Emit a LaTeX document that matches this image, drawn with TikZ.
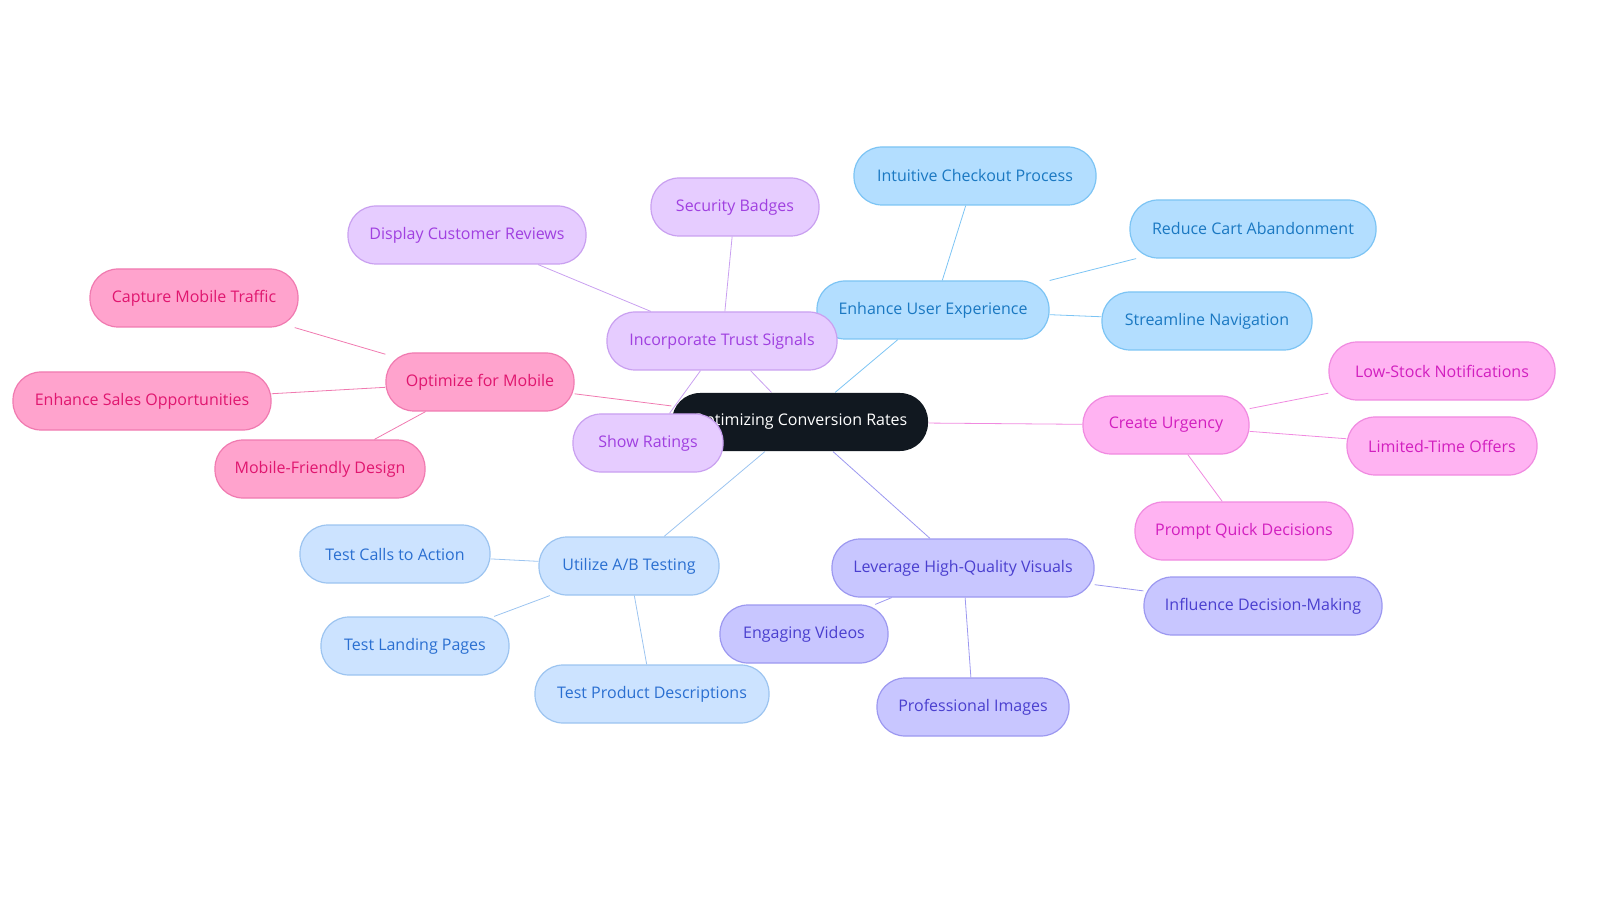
\documentclass[tikz,border=0pt]{standalone}
\usepackage{fontspec}
\setmainfont{Open Sans}
\usepackage{tikz}
\usetikzlibrary{backgrounds}
\definecolor{rootc}{HTML}{111820}
\definecolor{uxfill}{HTML}{B3DEFF}\definecolor{uxline}{HTML}{7CC4F4}\definecolor{uxtext}{HTML}{1A78C2}
\definecolor{trfill}{HTML}{E6CCFF}\definecolor{trline}{HTML}{C9A0F0}\definecolor{trtext}{HTML}{A040E0}
\definecolor{mbfill}{HTML}{FFA3CD}\definecolor{mbline}{HTML}{F07AB0}\definecolor{mbtext}{HTML}{E0166F}
\definecolor{urfill}{HTML}{FFB3F2}\definecolor{urline}{HTML}{F08AE0}\definecolor{urtext}{HTML}{D21FBF}
\definecolor{abfill}{HTML}{CCE3FF}\definecolor{abline}{HTML}{9CC4F0}\definecolor{abtext}{HTML}{2A6FD1}
\definecolor{vsfill}{HTML}{C8C6FF}\definecolor{vsline}{HTML}{9C98F0}\definecolor{vstext}{HTML}{4A3FCF}
\tikzset{
	box/.style={rounded corners=14pt,minimum height=29pt,inner xsep=0pt,font=\fontsize{8}{10}\selectfont,line width=0.6pt},
	ux/.style={box,fill=uxfill,draw=uxline,text=uxtext},
	tr/.style={box,fill=trfill,draw=trline,text=trtext},
	mb/.style={box,fill=mbfill,draw=mbline,text=mbtext},
	ur/.style={box,fill=urfill,draw=urline,text=urtext},
	ab/.style={box,fill=abfill,draw=abline,text=abtext},
	vs/.style={box,fill=vsfill,draw=vsline,text=vstext},
	link/.style={line width=0.9pt}
}

\begin{document}
\begin{tikzpicture}[x=0.5pt,y=-0.5pt]
  \useasboundingbox (0,0) rectangle (1600,903);
  \node [box,fill=rootc,text=white,minimum width=128pt] (root) at (800,422) {Optimizing Conversion Rates};
  % user experience
  \node [ux,minimum width=116pt] (ux) at (933,310) {Enhance User Experience};
  \node [ux,minimum width=121pt] (ux1) at (975,176) {Intuitive Checkout Process};
  \node [ux,minimum width=123pt] (ux2) at (1253,229) {Reduce Cart Abandonment};
  \node [ux,minimum width=105pt] (ux3) at (1207,321) {Streamline Navigation};
  % trust
  \node [tr,minimum width=115pt] (tr) at (722,341) {Incorporate Trust Signals};
  \node [tr,minimum width=84pt] (tr1) at (735,207) {Security Badges};
  \node [tr,minimum width=119pt] (tr2) at (467,235) {Display Customer Reviews};
  % mobile
  \node [mb,minimum width=94pt] (mb) at (480,382) {Optimize for Mobile};
  \node [mb,minimum width=104pt] (mb1) at (194,298) {Capture Mobile Traffic};
  \node [mb,minimum width=129pt] (mb2) at (142,401) {Enhance Sales Opportunities};
  \node [mb,minimum width=105pt] (mb3) at (320,469) {Mobile-Friendly Design};
  % urgency
  \node [ur,minimum width=83pt] (ur) at (1166,425) {Create Urgency};
  \node [ur,minimum width=113pt] (ur1) at (1442,371) {Low-Stock Notifications};
  \node [ur,minimum width=95pt] (ur2) at (1442,446) {Limited-Time Offers};
  \node [ur,minimum width=109pt] (ur3) at (1244,531) {Prompt Quick Decisions};
  % a/b testing
  \node [ab,minimum width=90pt] (ab) at (629,566) {Utilize A/B Testing};
  \node [ab,minimum width=95pt] (ab1) at (395,554) {Test Calls to Action};
  \node [ab,minimum width=94pt] (ab2) at (415,646) {Test Landing Pages};
  \node [ab,minimum width=117pt] (ab3) at (652,694) {Test Product Descriptions};
  % visuals
  \node [vs,minimum width=131pt] (vs) at (963,568) {Leverage High-Quality Visuals};
  \node [vs,minimum width=119pt] (vs1) at (1263,606) {Influence Decision-Making};
  \node [vs,minimum width=84pt] (vs2) at (804,634) {Engaging Videos};
  \node [vs,minimum width=96pt] (vs3) at (973,707) {Professional Images};
  % ratings sits over the root
  \node [tr,minimum width=75pt] (tr3) at (648,443) {Show Ratings};
  \begin{scope}[on background layer,link]
    \draw [uxline] (root) -- (ux) (ux) -- (ux1) (ux) -- (ux2) (ux) -- (ux3);
    \draw [trline] (root) -- (tr) (tr) -- (tr1) (tr) -- (tr2) (tr) -- (tr3);
    \draw [mbline] (root) -- (mb) (mb) -- (mb1) (mb) -- (mb2) (mb) -- (mb3);
    \draw [urline] (root) -- (ur) (ur) -- (ur1) (ur) -- (ur2) (ur) -- (ur3);
    \draw [abline] (root) -- (ab) (ab) -- (ab1) (ab) -- (ab2) (ab) -- (ab3);
    \draw [vsline] (root) -- (vs) (vs) -- (vs1) (vs) -- (vs2) (vs) -- (vs3);
  \end{scope}
\end{tikzpicture}
\end{document}
